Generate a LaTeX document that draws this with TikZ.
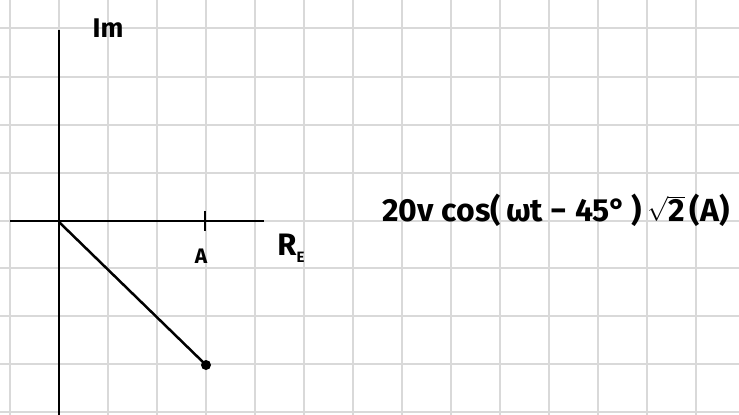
\documentclass[tikz,border=0pt]{standalone}
\usepackage{fontspec}
\setmainfont{Fira Sans}
\begin{document}
\begin{tikzpicture}[x=1pt,y=-1pt,
  gridline/.style={draw=black!15,line width=1.4pt},
  axis/.style={draw=black,line width=2.8pt},
  lbl/.style={inner sep=0pt}]
\useasboundingbox[fill=white] (0,0) rectangle (739,415);
% graph paper
\foreach \x in {10,59,108,157,206,255,304,353,402,451,500,549,598,647,696}
  \draw[gridline] (\x,0) -- (\x,415);
\foreach \y in {28,77,125,173,221,268,316,364,412}
  \draw[gridline] (0,\y) -- (739,\y);
% axes
\coordinate (O) at (59,222);
\coordinate (ytop) at (59,30);
\coordinate (ybot) at (59,415);
\coordinate (xl) at (10,221);
\coordinate (xr) at (264,221);
\draw[axis] (ytop) -- (ybot);
\draw[axis] (xl) -- (xr);
\coordinate (tk1) at (205,211);
\coordinate (tk2) at (205,231);
\draw[axis] (tk1) -- (tk2);
% phasor
\coordinate (P) at (206,365);
\draw[axis,line width=2.5pt] (O) -- (P);
\fill (P) circle (5pt);
% labels
\node[lbl,font=\bfseries\fontsize{27}{30}\selectfont] (Im) at (108,28) {Im};
\node[lbl,font=\bfseries\fontsize{21}{24}\selectfont] (A) at (201,256) {A};
\node[lbl,font=\bfseries\fontsize{31}{34}\selectfont] (Re) at (291,248) {R\raisebox{-0.4ex}{\fontsize{15}{17}\selectfont E}};
\node[inner sep=0pt,font=\bfseries\fontsize{32}{38}\selectfont] (eq) at (556,210)
  {20v cos(\,ωt − 45°\,)\,$\sqrt{\mbox{\bfseries\fontsize{32}{38}\selectfont 2}}$\,(A)};
\end{tikzpicture}
\end{document}
